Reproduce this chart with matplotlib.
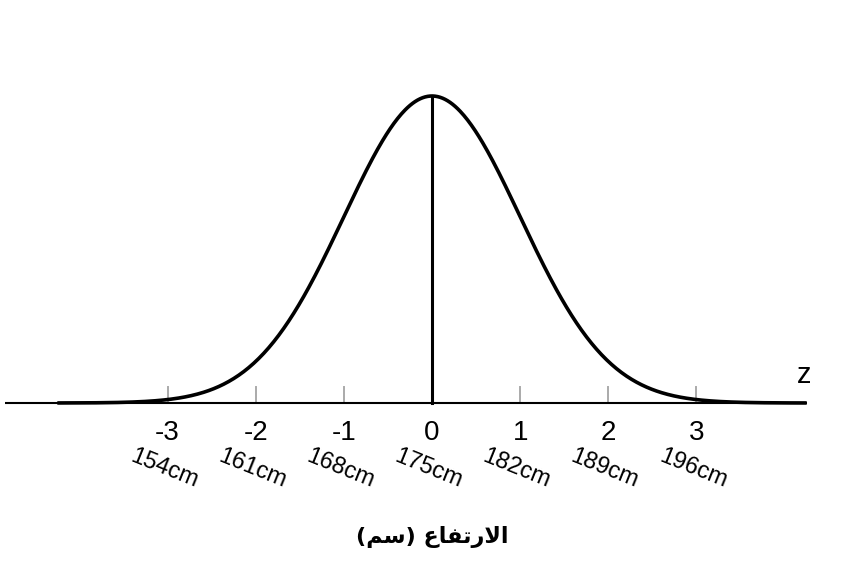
import numpy as np
from matplotlib import pyplot as plt

# chart values
z_ticks = [-3, -2, -1, 0, 1, 2, 3]
cm_labels = ['154cm', '161cm', '168cm', '175cm', '182cm', '189cm', '196cm']
mu = 0.0
sigma = 1.0
z_min, z_max = -4.25, 4.25

# Arabic label in visual order with presentation forms (matplotlib has no shaping)
xlabel = '(\uFEE2\uFEB3) \uFEC9\uFE8E\uFED4\uFE97\uFEAD\uFEFB\uFE8D'

z = np.linspace(z_min, z_max, 600)
pdf = np.exp(-0.5 * ((z - mu) / sigma) ** 2) / (sigma * np.sqrt(2 * np.pi))
peak = 1 / (sigma * np.sqrt(2 * np.pi))

fig = plt.figure(figsize=(8.64, 5.76), dpi=100)
ax = fig.add_axes([0, 0, 1, 1])
unit = peak / 307.0
ax.set_xlim(-4.9, 4.9)
ax.set_ylim(-(576 - 403) * unit, 403 * unit)
ax.axis('off')

# x axis line
ax.plot([-4.84, z_max], [0, 0], color='black', lw=1.5, solid_capstyle='butt')

# gray ticks
for t in z_ticks:
    ax.plot([t, t], [0, 16 * unit], color='#aaaaaa', lw=1.4, zorder=1)

# curve and mean line
ax.plot(z, pdf, color='black', lw=2.6, zorder=3, solid_capstyle='butt')
ax.plot([mu, mu], [0, peak], color='black', lw=2.2, zorder=3)

for t, lab in zip(z_ticks, cm_labels):
    ax.text(t, -30 * unit, str(t), ha='center', va='center', fontsize=20,
            family='Liberation Sans')
    ax.text(t - 0.04, -66 * unit, lab, ha='center', va='center', fontsize=17,
            rotation=-22, family='Liberation Sans')

ax.text(4.22, 28 * unit, 'z', ha='center', va='center', fontsize=21,
        family='Liberation Sans')

ax.text(0, -134 * unit, xlabel, ha='center', va='center', fontsize=16,
        fontweight='bold', family='DejaVu Sans')

plt.savefig('out.png', dpi=100)
